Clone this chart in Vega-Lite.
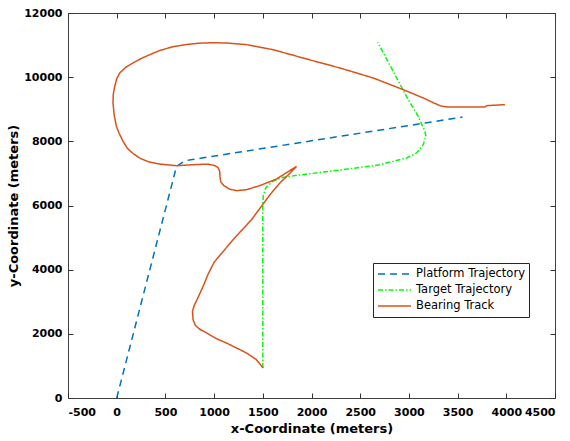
{
  "$schema": "https://vega.github.io/schema/vega-lite/v6.json",
  "width": 487,
  "height": 385,
  "autosize": "none",
  "padding": {"left": 68, "top": 13, "right": 15, "bottom": 43},
  "background": "white",
  "config": {
    "view": {"stroke": "#404040", "strokeWidth": 1},
    "axis": {
      "labelFont": "DejaVu Sans", "labelFontWeight": "bold", "labelFontSize": 11, "labelColor": "black",
      "titleFont": "DejaVu Sans", "titleFontSize": 13, "titleFontWeight": "bold", "titleColor": "black",
      "domain": false, "grid": false, "tickColor": "#333333", "tickSize": -5, "tickWidth": 1,
      "labelOverlap": false,
      "labelExpr": "datum.value < 0 ? '-' + abs(datum.value) : '' + datum.value"
    }
  },
  "data": {"values": [
    {"s": "Platform Trajectory", "i": 0, "x": 0, "y": 0},
    {"s": "Platform Trajectory", "i": 1, "x": 614, "y": 7219},
    {"s": "Platform Trajectory", "i": 2, "x": 700, "y": 7390},
    {"s": "Platform Trajectory", "i": 3, "x": 760, "y": 7425},
    {"s": "Platform Trajectory", "i": 4, "x": 3550, "y": 8755},

    {"s": "Target Trajectory", "i": 0, "x": 1500, "y": 935},
    {"s": "Target Trajectory", "i": 1, "x": 1500, "y": 5970},
    {"s": "Target Trajectory", "i": 2, "x": 1505, "y": 6300},
    {"s": "Target Trajectory", "i": 3, "x": 1530, "y": 6550},
    {"s": "Target Trajectory", "i": 4, "x": 1600, "y": 6750},
    {"s": "Target Trajectory", "i": 5, "x": 1700, "y": 6870},
    {"s": "Target Trajectory", "i": 6, "x": 1850, "y": 6940},
    {"s": "Target Trajectory", "i": 7, "x": 2600, "y": 7225},
    {"s": "Target Trajectory", "i": 8, "x": 2702, "y": 7272},
    {"s": "Target Trajectory", "i": 9, "x": 2839, "y": 7376},
    {"s": "Target Trajectory", "i": 10, "x": 2976, "y": 7481},
    {"s": "Target Trajectory", "i": 11, "x": 3079, "y": 7637},
    {"s": "Target Trajectory", "i": 12, "x": 3147, "y": 7896},
    {"s": "Target Trajectory", "i": 13, "x": 3175, "y": 8155},
    {"s": "Target Trajectory", "i": 14, "x": 3164, "y": 8311},
    {"s": "Target Trajectory", "i": 15, "x": 3096, "y": 8778},
    {"s": "Target Trajectory", "i": 16, "x": 2993, "y": 9299},
    {"s": "Target Trajectory", "i": 17, "x": 2702, "y": 10960},
    {"s": "Target Trajectory", "i": 18, "x": 2678, "y": 11085},

    {"s": "Bearing Track", "i": 0, "x": 1503, "y": 935},
    {"s": "Bearing Track", "i": 1, "x": 1435, "y": 1194},
    {"s": "Bearing Track", "i": 2, "x": 1333, "y": 1403},
    {"s": "Bearing Track", "i": 3, "x": 1230, "y": 1559},
    {"s": "Bearing Track", "i": 4, "x": 1127, "y": 1714},
    {"s": "Bearing Track", "i": 5, "x": 1025, "y": 1848},
    {"s": "Bearing Track", "i": 6, "x": 922, "y": 2026},
    {"s": "Bearing Track", "i": 7, "x": 850, "y": 2150},
    {"s": "Bearing Track", "i": 8, "x": 808, "y": 2260},
    {"s": "Bearing Track", "i": 9, "x": 784, "y": 2441},
    {"s": "Bearing Track", "i": 10, "x": 778, "y": 2700},
    {"s": "Bearing Track", "i": 11, "x": 795, "y": 2880},
    {"s": "Bearing Track", "i": 12, "x": 830, "y": 3100},
    {"s": "Bearing Track", "i": 13, "x": 887, "y": 3479},
    {"s": "Bearing Track", "i": 14, "x": 940, "y": 3870},
    {"s": "Bearing Track", "i": 15, "x": 1000, "y": 4230},
    {"s": "Bearing Track", "i": 16, "x": 1195, "y": 4935},
    {"s": "Bearing Track", "i": 17, "x": 1384, "y": 5558},
    {"s": "Bearing Track", "i": 18, "x": 1480, "y": 5950},
    {"s": "Bearing Track", "i": 19, "x": 1572, "y": 6330},
    {"s": "Bearing Track", "i": 20, "x": 1680, "y": 6720},
    {"s": "Bearing Track", "i": 21, "x": 1760, "y": 6950},
    {"s": "Bearing Track", "i": 22, "x": 1846, "y": 7219},
    {"s": "Bearing Track", "i": 23, "x": 1641, "y": 6826},
    {"s": "Bearing Track", "i": 24, "x": 1469, "y": 6618},
    {"s": "Bearing Track", "i": 25, "x": 1333, "y": 6493},
    {"s": "Bearing Track", "i": 26, "x": 1230, "y": 6462},
    {"s": "Bearing Track", "i": 27, "x": 1160, "y": 6510},
    {"s": "Bearing Track", "i": 28, "x": 1100, "y": 6620},
    {"s": "Bearing Track", "i": 29, "x": 1068, "y": 6740},
    {"s": "Bearing Track", "i": 30, "x": 1060, "y": 6900},
    {"s": "Bearing Track", "i": 31, "x": 1058, "y": 7064},
    {"s": "Bearing Track", "i": 32, "x": 1040, "y": 7180},
    {"s": "Bearing Track", "i": 33, "x": 1010, "y": 7240},
    {"s": "Bearing Track", "i": 34, "x": 938, "y": 7290},
    {"s": "Bearing Track", "i": 35, "x": 784, "y": 7272},
    {"s": "Bearing Track", "i": 36, "x": 614, "y": 7241},
    {"s": "Bearing Track", "i": 37, "x": 443, "y": 7290},
    {"s": "Bearing Track", "i": 38, "x": 330, "y": 7360},
    {"s": "Bearing Track", "i": 39, "x": 240, "y": 7470},
    {"s": "Bearing Track", "i": 40, "x": 168, "y": 7620},
    {"s": "Bearing Track", "i": 41, "x": 110, "y": 7780},
    {"s": "Bearing Track", "i": 42, "x": 65, "y": 8000},
    {"s": "Bearing Track", "i": 43, "x": 25, "y": 8250},
    {"s": "Bearing Track", "i": 44, "x": -3, "y": 8466},
    {"s": "Bearing Track", "i": 45, "x": -25, "y": 8800},
    {"s": "Bearing Track", "i": 46, "x": -38, "y": 9196},
    {"s": "Bearing Track", "i": 47, "x": -35, "y": 9470},
    {"s": "Bearing Track", "i": 48, "x": -20, "y": 9713},
    {"s": "Bearing Track", "i": 49, "x": 0, "y": 9950},
    {"s": "Bearing Track", "i": 50, "x": 31, "y": 10131},
    {"s": "Bearing Track", "i": 51, "x": 90, "y": 10300},
    {"s": "Bearing Track", "i": 52, "x": 168, "y": 10443},
    {"s": "Bearing Track", "i": 53, "x": 250, "y": 10580},
    {"s": "Bearing Track", "i": 54, "x": 339, "y": 10701},
    {"s": "Bearing Track", "i": 55, "x": 450, "y": 10840},
    {"s": "Bearing Track", "i": 56, "x": 579, "y": 10950},
    {"s": "Bearing Track", "i": 57, "x": 720, "y": 11020},
    {"s": "Bearing Track", "i": 58, "x": 853, "y": 11060},
    {"s": "Bearing Track", "i": 59, "x": 1000, "y": 11075},
    {"s": "Bearing Track", "i": 60, "x": 1150, "y": 11060},
    {"s": "Bearing Track", "i": 61, "x": 1333, "y": 11013},
    {"s": "Bearing Track", "i": 62, "x": 1606, "y": 10857},
    {"s": "Bearing Track", "i": 63, "x": 1949, "y": 10567},
    {"s": "Bearing Track", "i": 64, "x": 2291, "y": 10287},
    {"s": "Bearing Track", "i": 65, "x": 2633, "y": 9975},
    {"s": "Bearing Track", "i": 66, "x": 2942, "y": 9611},
    {"s": "Bearing Track", "i": 67, "x": 3147, "y": 9352},
    {"s": "Bearing Track", "i": 68, "x": 3260, "y": 9190},
    {"s": "Bearing Track", "i": 69, "x": 3330, "y": 9100},
    {"s": "Bearing Track", "i": 70, "x": 3400, "y": 9071},
    {"s": "Bearing Track", "i": 71, "x": 3781, "y": 9071},
    {"s": "Bearing Track", "i": 72, "x": 3798, "y": 9112},
    {"s": "Bearing Track", "i": 73, "x": 3986, "y": 9143}
  ]},
  "layer": [
    {
      "mark": {"type": "line", "strokeWidth": 1.5},
      "encoding": {
        "x": {"field": "x", "type": "quantitative",
              "scale": {"domain": [-500, 4500], "nice": false, "zero": false},
              "axis": {"orient": "bottom", "values": [-500, 0, 500, 1000, 1500, 2000, 2500, 3000, 3500, 4000, 4500],
                       "title": "x-Coordinate (meters)", "labelPadding": 13, "titlePadding": 5}},
        "y": {"field": "y", "type": "quantitative",
              "scale": {"domain": [0, 12000], "nice": false, "zero": false},
              "axis": {"orient": "left", "values": [0, 2000, 4000, 6000, 8000, 10000, 12000],
                       "title": "y-Coordinate (meters)", "labelPadding": 11, "titlePadding": 3}},
        "color": {"field": "s", "type": "nominal",
                  "scale": {"domain": ["Platform Trajectory", "Target Trajectory", "Bearing Track"],
                            "range": ["#0072BD", "#00FF00", "#D95319"]},
                  "legend": {"orient": "none", "legendX": 305, "legendY": 250, "title": null,
                             "strokeColor": "#262626", "fillColor": "white", "padding": 4,
                             "symbolType": "stroke", "symbolSize": 1089, "symbolStrokeWidth": 1.5,
                             "labelFont": "DejaVu Sans", "labelFontSize": 11.5, "labelColor": "black",
                             "labelOffset": 4, "rowPadding": 2, "clipHeight": 14}},
        "strokeDash": {"field": "s", "type": "nominal",
                       "scale": {"domain": ["Platform Trajectory", "Target Trajectory", "Bearing Track"],
                                 "range": [[7, 5], [5, 2, 1.5, 2], [1, 0]]},
                       "legend": {"orient": "none", "legendX": 305, "legendY": 250, "title": null}},
        "order": {"field": "i", "type": "quantitative"}
      }
    },
    {
      "mark": {"type": "point", "opacity": 0},
      "encoding": {
        "x": {"field": "x", "type": "quantitative",
              "scale": {"domain": [-500, 4500], "nice": false, "zero": false},
              "axis": {"orient": "top", "values": [-500, 0, 500, 1000, 1500, 2000, 2500, 3000, 3500, 4000, 4500],
                       "labels": false, "title": null}},
        "y": {"field": "y", "type": "quantitative",
              "scale": {"domain": [0, 12000], "nice": false, "zero": false},
              "axis": {"orient": "right", "values": [0, 2000, 4000, 6000, 8000, 10000, 12000],
                       "labels": false, "title": null}}
      }
    }
  ],
  "resolve": {"axis": {"x": "independent", "y": "independent"}}
}
